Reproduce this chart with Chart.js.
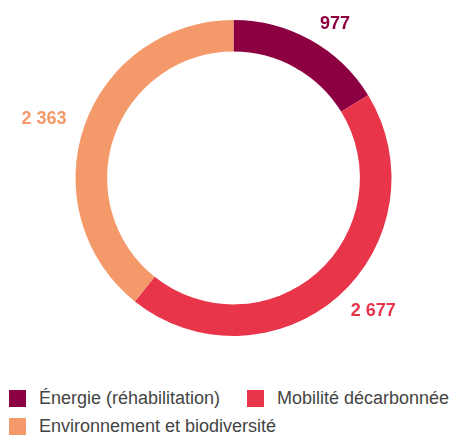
<!DOCTYPE html>
<html>
<head>
<meta charset="utf-8">
<script src="https://cdn.jsdelivr.net/npm/chart.js@4"></script>
<style>
  html, body { margin: 0; padding: 0; background: #fff; }
  #wrap { position: relative; width: 459px; height: 435px; overflow: hidden; }
  #chartBox { position: absolute; left: 0; top: 0; width: 459px; height: 370px; }
  #legend { position: absolute; left: 9px; top: 389px; width: 450px;
    font-family: "Liberation Sans", Arial, sans-serif; font-size: 18px; color: #444; }
  .item { position: absolute; display: flex; align-items: center; white-space: nowrap; height: 18px; }
  .box { width: 17px; height: 17px; margin-right: 13px; }
</style>
</head>
<body>
<div id="wrap">
  <div id="chartBox"><canvas id="myChart"></canvas></div>
  <div id="legend"></div>
</div>
<script>
const categories = ['Énergie (réhabilitation)', 'Mobilité décarbonnée', 'Environnement et biodiversité'];
const values = [977, 2677, 2363];
const valueLabels = ['977', '2 677', '2 363'];
const colors = ['#8c0042', '#e8354a', '#f3996a'];

// value labels placed just outside each slice
const outsideLabels = {
  id: 'outsideLabels',
  afterDatasetsDraw(chart) {
    const c = chart.ctx;
    const meta = chart.getDatasetMeta(0);
    c.save();
    c.font = 'bold 18px "Liberation Sans", Arial, sans-serif';
    c.textBaseline = 'middle';
    meta.data.forEach((arc, i) => {
      const mid = (arc.startAngle + arc.endAngle) / 2;
      const r = arc.outerRadius + 19;
      const x = arc.x + Math.cos(mid) * r;
      const y = arc.y + Math.sin(mid) * r;
      c.textAlign = Math.cos(mid) >= 0 ? 'left' : 'right';
      c.fillStyle = colors[i];
      c.fillText(valueLabels[i], x, y);
    });
    c.restore();
  }
};

const config = {
  type: 'doughnut',
  data: {
    labels: categories,
    datasets: [{
      data: values,
      backgroundColor: colors,
      borderWidth: 0
    }]
  },
  options: {
    responsive: true,
    maintainAspectRatio: false,
    animation: false,
    cutout: '80%',
    layout: { padding: { left: 8, top: 20, bottom: 34 } },
    plugins: {
      legend: { display: false },
      tooltip: { enabled: false }
    }
  },
  plugins: [outsideLabels]
};

new Chart(document.getElementById('myChart'), config);

// legend
const legendPos = [[0, 0], [238, 0], [0, 28]];
const legend = document.getElementById('legend');
categories.forEach((name, i) => {
  const el = document.createElement('div');
  el.className = 'item';
  el.style.left = legendPos[i][0] + 'px';
  el.style.top = legendPos[i][1] + 'px';
  el.innerHTML = '<span class="box" style="background:' + colors[i] + '"></span><span>' + name + '</span>';
  legend.appendChild(el);
});
</script>
</body>
</html>
